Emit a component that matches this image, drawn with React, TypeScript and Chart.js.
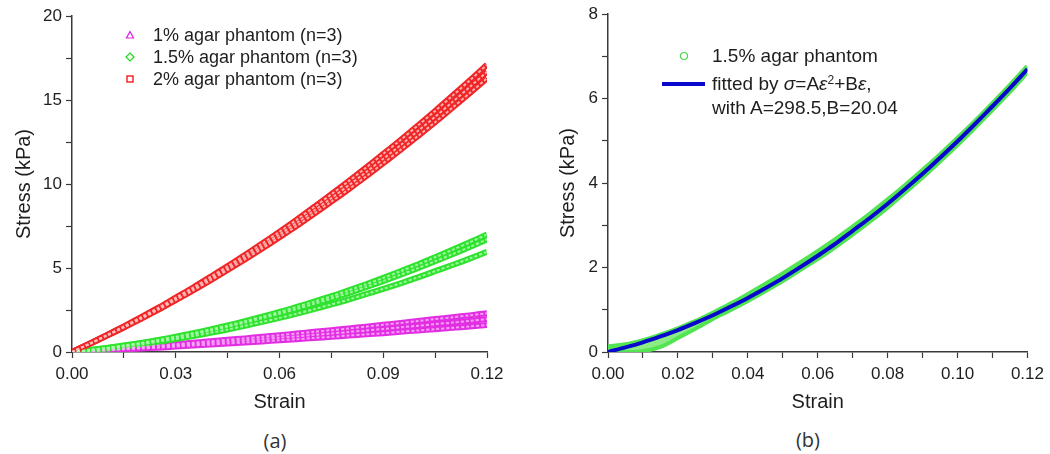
import React, { useEffect, useRef } from "react";
import { Chart, registerables } from "chart.js";

Chart.register(...registerables);

// ---------- data ----------
const STRAIN = [
  0, 0.005, 0.01, 0.015, 0.02, 0.025, 0.03, 0.035, 0.04, 0.045, 0.05, 0.055, 0.06,
  0.065, 0.07, 0.075, 0.08, 0.085, 0.09, 0.095, 0.1, 0.105, 0.11, 0.115, 0.12,
];

// panel (a): 2% agar (three specimens)
const RED_HIGH = [0, 0.49, 1.0, 1.53, 2.08, 2.64, 3.24, 3.84, 4.47, 5.11, 5.78, 6.46, 7.16, 7.88, 8.63, 9.39, 10.17, 10.97, 11.79, 12.62, 13.48, 14.35, 15.25, 16.16, 17.1];
const RED_MID = [0, 0.48, 0.98, 1.49, 2.03, 2.58, 3.16, 3.75, 4.36, 4.99, 5.64, 6.3, 6.99, 7.69, 8.42, 9.16, 9.92, 10.7, 11.5, 12.31, 13.15, 14.0, 14.88, 15.77, 16.68];
const RED_LOW = [0, 0.47, 0.96, 1.46, 1.98, 2.52, 3.09, 3.66, 4.26, 4.88, 5.51, 6.16, 6.83, 7.51, 8.23, 8.95, 9.69, 10.45, 11.24, 12.03, 12.85, 13.68, 14.54, 15.41, 16.3];

// panel (a): 1.5% agar (three specimens)
const GREEN_HIGH = [0, 0.11, 0.24, 0.39, 0.54, 0.72, 0.91, 1.12, 1.34, 1.58, 1.83, 2.1, 2.38, 2.68, 3.0, 3.32, 3.67, 4.03, 4.41, 4.81, 5.21, 5.64, 6.08, 6.53, 7.0];
const GREEN_MID = [0, 0.11, 0.23, 0.37, 0.52, 0.69, 0.87, 1.07, 1.28, 1.51, 1.75, 2.01, 2.28, 2.56, 2.87, 3.18, 3.51, 3.86, 4.22, 4.6, 4.99, 5.4, 5.82, 6.25, 6.7];
const GREEN_LOW = [0, 0.1, 0.2, 0.33, 0.46, 0.61, 0.77, 0.95, 1.14, 1.34, 1.56, 1.79, 2.03, 2.28, 2.55, 2.83, 3.12, 3.44, 3.76, 4.09, 4.44, 4.81, 5.18, 5.56, 5.96];

// panel (a): 1% agar (three specimens)
const MAG_HIGH = [0, 0.07, 0.14, 0.22, 0.31, 0.38, 0.46, 0.55, 0.64, 0.73, 0.81, 0.91, 1.0, 1.1, 1.2, 1.3, 1.4, 1.51, 1.62, 1.73, 1.84, 1.96, 2.07, 2.18, 2.31];
const MAG_MID = [0, 0.06, 0.12, 0.19, 0.26, 0.32, 0.39, 0.47, 0.54, 0.62, 0.69, 0.77, 0.85, 0.93, 1.02, 1.1, 1.19, 1.28, 1.37, 1.47, 1.56, 1.66, 1.75, 1.85, 1.96];
const MAG_LOW = [0, 0.05, 0.1, 0.16, 0.21, 0.26, 0.32, 0.39, 0.44, 0.51, 0.57, 0.63, 0.7, 0.76, 0.84, 0.9, 0.98, 1.05, 1.12, 1.21, 1.28, 1.36, 1.44, 1.52, 1.61];

// panel (b): 1.5% agar measured (upper and toe branch) and fitted curve
const B_GREEN_UPPER = [0.12, 0.17, 0.27, 0.4, 0.55, 0.72, 0.92, 1.13, 1.36, 1.6, 1.85, 2.11, 2.38, 2.66, 2.96, 3.27, 3.6, 3.94, 4.3, 4.67, 5.06, 5.46, 5.88, 6.31, 6.76];
const B_GREEN_LOWER = [0, 0, 0.02, 0.12, 0.33, 0.55, 0.78, 0.99, 1.21, 1.44, 1.68, 1.94, 2.2, 2.48, 2.78, 3.09, 3.42, 3.77, 4.13, 4.51, 4.9, 5.31, 5.73, 6.16, 6.62];
const B_FIT = [0, 0.11, 0.23, 0.37, 0.52, 0.69, 0.87, 1.07, 1.28, 1.51, 1.75, 2.01, 2.28, 2.56, 2.87, 3.18, 3.51, 3.86, 4.22, 4.6, 4.99, 5.4, 5.82, 6.25, 6.7];

const A_X_TICKS = ["0.00", "0.03", "0.06", "0.09", "0.12"];
const A_Y_TICKS = ["0", "5", "10", "15", "20"];
const B_X_TICKS = ["0.00", "0.02", "0.04", "0.06", "0.08", "0.10", "0.12"];
const B_Y_TICKS = ["0", "2", "4", "6", "8"];

// ---------- styling ----------
const FONT = "'Liberation Sans', Arial, sans-serif";
const AXIS = "#3a3a3a";
const TEXT = "#1e1e1e";

const pts = (ys: number[]) => STRAIN.map((x, i) => ({ x, y: ys[i] }));

// one specimen curve drawn as a marker band: strong outer stroke plus light inner stroke
function band(ys: number[], edge: string, inner: string): any[] {
  return [
    {
      label: "",
      data: pts(ys),
      borderColor: inner,
      borderWidth: 2,
      borderDash: [3, 2],
      pointRadius: 0,
      tension: 0.3,
      fill: false,
      order: 0,
    },
    {
      label: "",
      data: pts(ys),
      borderColor: edge,
      borderWidth: 6,
      pointRadius: 0,
      tension: 0.3,
      fill: false,
      order: 1,
    },
  ];
}

function axis(min: number, max: number, step: number, labels: string[], every: number, title: string, fixed: number, horizontal: boolean, titlePad: number) {
  return {
    type: "linear",
    min,
    max,
    afterFit: (s: any) => {
      if (horizontal) s.height = fixed;
      else s.width = fixed;
    },
    border: { display: true, color: AXIS, width: 1.5 },
    grid: { display: true, drawOnChartArea: false, drawTicks: true, tickLength: 6, tickColor: AXIS, tickWidth: 1.2 },
    ticks: {
      stepSize: step,
      maxTicksLimit: 30,
      autoSkip: false,
      maxRotation: 0,
      padding: horizontal ? 6 : 4,
      color: TEXT,
      font: { family: FONT, size: 17 },
      callback: (_v: any, i: number) => (i % every === 0 ? labels[i / every] ?? "" : ""),
    },
    title: {
      display: true,
      text: title,
      color: TEXT,
      font: { family: FONT, size: 20 },
      padding: horizontal ? { top: 0, bottom: titlePad } : { top: titlePad, bottom: 0 },
    },
  };
}

function configA(): any {
  return {
    type: "line",
    data: {
      datasets: [
        ...band(RED_HIGH, "#f02626", "rgba(255,190,190,0.9)"),
        ...band(RED_MID, "#f02626", "rgba(255,190,190,0.9)"),
        ...band(RED_LOW, "#f02626", "rgba(255,190,190,0.9)"),
        ...band(GREEN_HIGH, "#2ee22e", "rgba(170,250,170,0.9)"),
        ...band(GREEN_MID, "#2ee22e", "rgba(170,250,170,0.9)"),
        ...band(GREEN_LOW, "#2ee22e", "rgba(170,250,170,0.9)"),
        ...band(MAG_HIGH, "#e22ee2", "rgba(250,170,250,0.9)"),
        ...band(MAG_MID, "#e22ee2", "rgba(250,170,250,0.9)"),
        ...band(MAG_LOW, "#e22ee2", "rgba(250,170,250,0.9)"),
      ],
    },
    options: {
      responsive: false,
      animation: false,
      devicePixelRatio: 1,
      layout: { padding: { left: 0, top: 16, right: 33, bottom: 0 } },
      plugins: { legend: { display: false }, tooltip: { enabled: false } },
      scales: {
        x: axis(0, 0.12, 0.015, A_X_TICKS, 2, "Strain", 68, true, 6),
        y: axis(0, 20, 2.5, A_Y_TICKS, 2, "Stress (kPa)", 72, false, 12),
      },
    },
  };
}

function configB(): any {
  return {
    type: "line",
    data: {
      datasets: [
        {
          label: "fitted",
          data: pts(B_FIT),
          borderColor: "#0808cc",
          borderWidth: 4,
          pointRadius: 0,
          tension: 0.3,
          fill: false,
        },
        {
          label: "1.5% agar phantom",
          data: pts(B_GREEN_UPPER),
          borderColor: "#52e452",
          borderWidth: 5,
          pointRadius: 0,
          tension: 0.3,
          fill: false,
        },
        {
          label: "",
          data: pts(B_GREEN_LOWER),
          borderColor: "#52e452",
          borderWidth: 4,
          pointRadius: 0,
          backgroundColor: "rgba(110,232,100,0.8)",
          tension: 0.3,
          fill: 1,
        },
      ],
    },
    options: {
      responsive: false,
      animation: false,
      devicePixelRatio: 1,
      layout: { padding: { left: 0, top: 13, right: 22, bottom: 0 } },
      plugins: { legend: { display: false }, tooltip: { enabled: false } },
      scales: {
        x: axis(0, 0.12, 0.01, B_X_TICKS, 2, "Strain", 68, true, 6),
        y: axis(0, 8, 1, B_Y_TICKS, 2, "Stress (kPa)", 78, false, 26),
      },
    },
  };
}

function ChartCanvas({ left, width, height, make }: { left: number; width: number; height: number; make: () => any }) {
  const ref = useRef<HTMLCanvasElement>(null);
  useEffect(() => {
    const chart = new Chart(ref.current as HTMLCanvasElement, make());
    return () => chart.destroy();
  }, []);
  return (
    <canvas
      ref={ref}
      width={width}
      height={height}
      style={{ position: "absolute", left, top: 0, width, height }}
    />
  );
}

const legendText = (left: number, cy: number, size: number, content: React.ReactNode) => (
  <div
    style={{
      position: "absolute",
      left,
      top: cy - 12,
      height: 24,
      lineHeight: "24px",
      fontFamily: FONT,
      fontSize: size,
      color: TEXT,
      whiteSpace: "nowrap",
    }}
  >
    {content}
  </div>
);

const marker = (cx: number, cy: number, shape: React.ReactNode) => (
  <svg style={{ position: "absolute", left: cx - 6, top: cy - 6 }} width={12} height={12} viewBox="0 0 12 12">
    {shape}
  </svg>
);

export default function App() {
  return (
    <div style={{ position: "absolute", left: 0, top: 0, width: 1050, height: 454, background: "#fff", overflow: "hidden" }}>
      <ChartCanvas left={0} width={520} height={420} make={configA} />
      <ChartCanvas left={530} width={520} height={420} make={configB} />

      {/* legend (a) */}
      {marker(130, 35, <polygon points="6,2.5 9.5,9 2.5,9" fill="none" stroke="#e01ee0" strokeWidth={1.2} />)}
      {marker(130, 57, <polygon points="6,2 10,6 6,10 2,6" fill="none" stroke="#18d818" strokeWidth={1.2} />)}
      {marker(130, 79, <rect x={3} y={3} width={6} height={6} fill="none" stroke="#ee1c1c" strokeWidth={1.4} />)}
      {legendText(153, 35, 18, "1% agar phantom (n=3)")}
      {legendText(153, 57, 18, "1.5% agar phantom (n=3)")}
      {legendText(153, 79, 18, "2% agar phantom (n=3)")}

      {/* legend (b) */}
      {marker(684, 56, <circle cx={6} cy={6} r={3.5} fill="none" stroke="#44d844" strokeWidth={1.2} />)}
      <div style={{ position: "absolute", left: 662, top: 82, width: 43, height: 4, background: "#0808cc" }} />
      {legendText(712, 56, 19, "1.5% agar phantom")}
      {legendText(
        712,
        84,
        19,
        <span>
          fitted by <i>σ</i>=A<i>ε</i>
          <sup style={{ fontSize: 12, verticalAlign: "6px", lineHeight: 0 }}>2</sup>+B<i>ε</i>,
        </span>
      )}
      {legendText(712, 108, 19, "with A=298.5,B=20.04")}

      {/* captions */}
      <div style={{ position: "absolute", left: 245, top: 427, width: 60, textAlign: "center", fontFamily: "'Open Sans', sans-serif", fontSize: 20, color: "#333", lineHeight: "28px" }}>(a)</div>
      <div style={{ position: "absolute", left: 778, top: 426, width: 60, textAlign: "center", fontFamily: "'Open Sans', sans-serif", fontSize: 20, color: "#333", lineHeight: "28px" }}>(b)</div>
    </div>
  );
}
